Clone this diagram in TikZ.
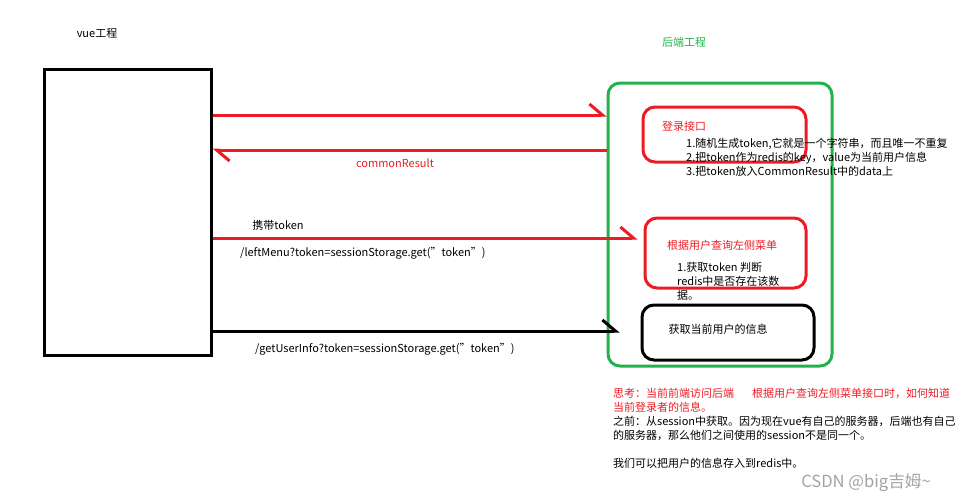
\documentclass[tikz,border=0pt]{standalone}
\usepackage{fontspec,xcolor,tikz}
\usetikzlibrary{arrows.meta,positioning}
\setmainfont{Noto Sans CJK SC}
\definecolor{paintred}{HTML}{ED1C24}
\definecolor{paintgreen}{HTML}{22B14C}
\definecolor{wmgray}{HTML}{A3A3A3}
\tikzset{
  frame/.style={draw, line width=3pt, inner sep=0pt},
  txt/.style={inner sep=0pt, align=left, font=\fontsize{11}{14}\selectfont},
  flow/.style={line width=3pt, -{Straight Barb[harpoon, length=13pt, width=22pt, line width=3pt]}}
}
\begin{document}
\begin{tikzpicture}[x=1pt, y=-1pt]
  \useasboundingbox (0,0) rectangle (965,501);
  \node[frame, minimum width=167pt, minimum height=286pt] (vue) at (127.5,212) {};
  \node[frame, paintgreen, rounded corners=12pt, minimum width=224pt, minimum height=283pt] (backend) at (720,224.5) {};
  \node[frame, paintred, rounded corners=12pt, minimum width=163pt, minimum height=55pt] (login) at (724.5,134.5) {};
  \node[frame, paintred, rounded corners=12pt, minimum width=161pt, minimum height=70pt] (menu) at (725.5,253) {};
  \node[frame, rounded corners=12pt, minimum width=172pt, minimum height=55pt] (info) at (728,332.5) {};

  \node[txt] (vuetitle) at (97,33) {vue工程};
  \node[txt, paintgreen] (backtitle) at (684,42) {后端工程};
  \node[txt, paintred, anchor=west] (logintitle) at (662,126) {登录接口};
  \node[txt, anchor=north west] (loginsteps) at (686,137.5) {1.随机生成token,它就是一个字符串，而且唯一不重复\\2.把token作为redis的key，value为当前用户信息\\3.把token放入CommonResult中的data上};
  \node[txt, paintred] (menutitle) at (722,245) {根据用户查询左侧菜单};
  \node[txt, anchor=north west] (menusteps) at (677,262.5) {1.获取token 判断\\redis中是否存在该数\\据。};
  \node[txt] (infotitle) at (718,329) {获取当前用户的信息};

  \coordinate (y1) at (0,115);
  \coordinate (y2) at (0,150);
  \coordinate (y3) at (0,238);
  \coordinate (y4) at (0,331);
  \draw[flow, paintred] (vue.east |- y1) -- (backend.west |- y1);
  \draw[flow, paintred] (backend.west |- y2) -- (vue.east |- y2);
  \draw[flow, paintred, shorten >=6pt] (vue.east |- y3) -- (menu.west |- y3);
  \draw[flow, shorten >=21pt] (vue.east |- y4) -- (info.west |- y4);

  \node[txt, paintred] (result) at (395,163) {commonResult};
  \node[txt] (carry) at (278,225) {携带token};
  \node[txt, anchor=west] (menuurl) at (240,253) {/leftMenu?token=sessionStorage.get("token")};
  \node[txt, anchor=west] (infourl) at (255,349) {/getUserInfo?token=sessionStorage.get("token")};

  \node[txt, paintred, anchor=north west] (think) at (613,387.5) {思考：当前前端访问后端\hspace{18pt}根据用户查询左侧菜单接口时，如何知道\\当前登录者的信息。};
  \node[txt, anchor=north west] (before) at (613,415.5) {之前：从session中获取。因为现在vue有自己的服务器，后端也有自己\\的服务器，那么他们之间使用的session不是同一个。\\[14pt]我们可以把用户的信息存入到redis中。};
  \node[inner sep=0pt, wmgray, font=\fontsize{16.6}{19}\selectfont] (csdn) at (866,483) {CSDN @big吉姆\textasciitilde};
\end{tikzpicture}
\end{document}
